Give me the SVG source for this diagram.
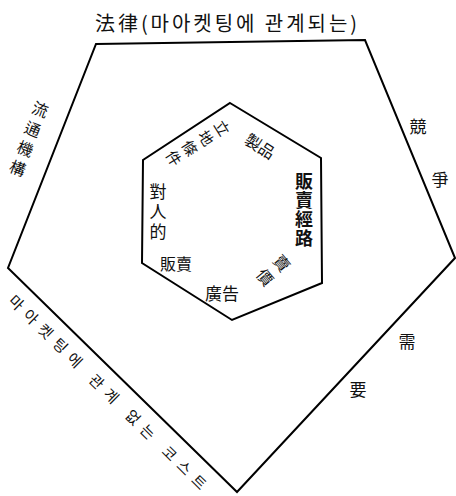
<svg xmlns="http://www.w3.org/2000/svg" width="456" height="496" viewBox="0 0 456 496">
<style>
.edge{fill:none;stroke:#000;stroke-width:2;stroke-linejoin:miter}
text{font-family:"Noto Sans CJK KR","Noto Sans CJK TC",sans-serif;fill:#111}
.v{writing-mode:vertical-rl}
.c{text-anchor:middle;dominant-baseline:central}
.s{dominant-baseline:central}
</style>
<rect width="456" height="496" fill="#fff"/>
<g id="connectors">
<polygon id="outer" class="edge" points="96,44 365,40 455,258 237,492 8,268"/>
<polygon id="inner" class="edge" points="230,103 321,158 322,283 232,320 142,263 143,160"/>
</g>
<g id="law"><text x="95" y="31" font-size="20" textLength="262" lengthAdjust="spacing">法律(마아켓팅에 관계되는)</text></g>
<g id="distribution" transform="translate(43,102) rotate(21)"><text class="v" x="0" y="0" font-size="16" letter-spacing="5">流通機構</text></g>
<g id="competition"><text class="c" x="418" y="125" font-size="17">競</text><text class="c" x="440" y="178" font-size="17">爭</text></g>
<g id="demand"><text class="c" x="407" y="340" font-size="17">需</text><text class="c" x="358" y="388" font-size="17">要</text></g>
<g id="cost" transform="translate(12,297) rotate(44.5)"><text class="s" x="0" y="0" font-size="15" textLength="270" lengthAdjust="spacing">마아켓팅에 관계 없는 코스트</text></g>
<g id="location" transform="translate(228.5,124) rotate(58)"><text class="v" x="0" y="0" font-size="15" letter-spacing="4">立地條件</text></g>
<g id="product" transform="translate(260.5,145.5) rotate(33)"><text class="c" x="0" y="0" font-size="16">製品</text></g>
<g id="channel"><text class="v" x="304" y="172" font-size="18" letter-spacing="1.2" font-weight="bold">販賣經路</text></g>
<g id="price" transform="translate(288,258) rotate(50)"><text class="v" x="0" y="0" font-size="16" letter-spacing="6">賣價</text></g>
<g id="advertising"><text class="c" x="222" y="292" font-size="17">廣告</text></g>
<g id="selling"><text class="c" x="176" y="263" font-size="16">販賣</text></g>
<g id="personal"><text class="v" x="158" y="183" font-size="17" letter-spacing="3">對人的</text></g>
</svg>
